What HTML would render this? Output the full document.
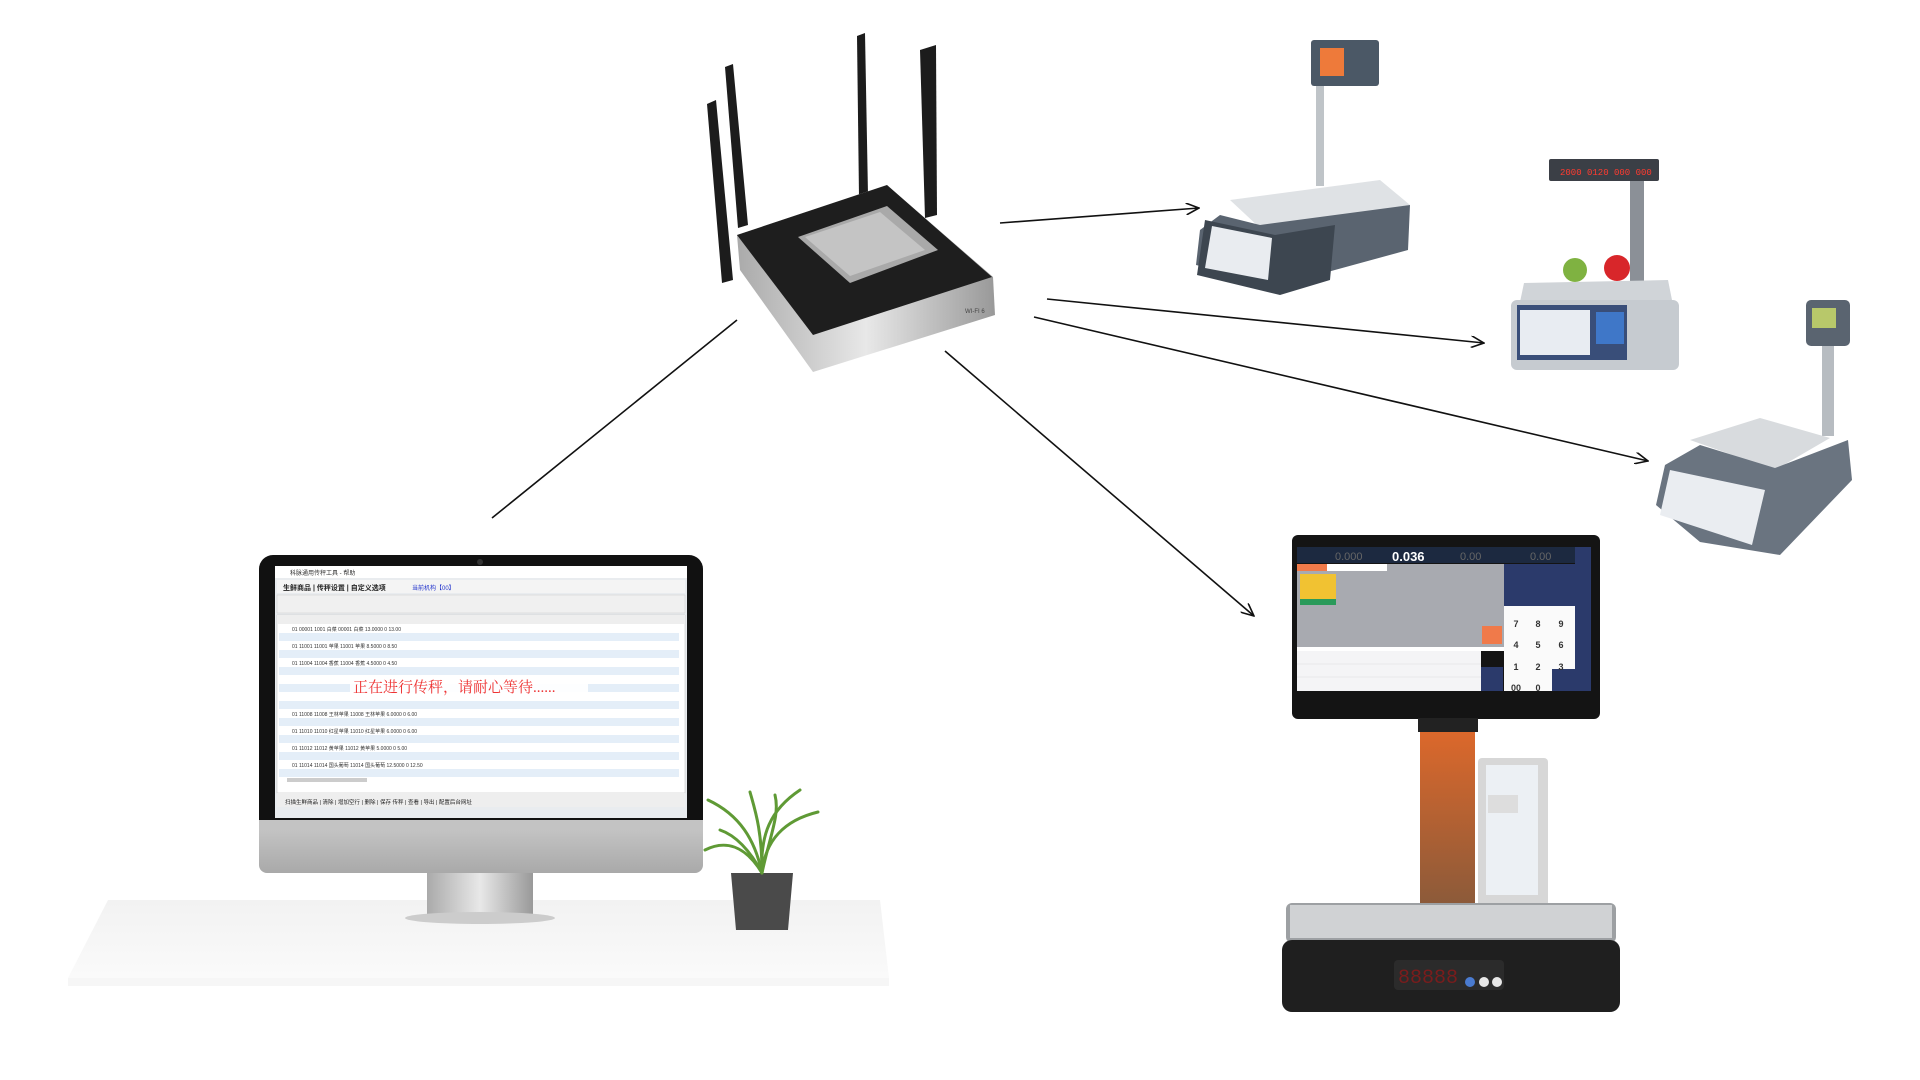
<!DOCTYPE html>
<html><head><meta charset="utf-8"><style>
html,body{margin:0;padding:0;background:#fff;width:1920px;height:1080px;overflow:hidden}
svg{position:absolute;left:0;top:0}
</style></head><body>
<svg width="1920" height="1080" viewBox="0 0 1920 1080" xmlns="http://www.w3.org/2000/svg" font-family="Liberation Sans, Noto Sans CJK SC, sans-serif">
<defs>
<marker id="ah" markerWidth="14" markerHeight="12" refX="13" refY="6" orient="auto" markerUnits="userSpaceOnUse">
<path d="M0,0 L13,6 L0,12" fill="none" stroke="#111" stroke-width="1.6"/></marker>
<linearGradient id="desk" x1="0" y1="0" x2="0" y2="1"><stop offset="0" stop-color="#f2f2f2"/><stop offset="1" stop-color="#fafafa"/></linearGradient>
<linearGradient id="silver" x1="0" y1="0" x2="1" y2="0"><stop offset="0" stop-color="#aaa"/><stop offset=".5" stop-color="#e8e8e8"/><stop offset="1" stop-color="#999"/></linearGradient>
<linearGradient id="chin" x1="0" y1="0" x2="0" y2="1"><stop offset="0" stop-color="#c9c9c9"/><stop offset="1" stop-color="#a9a9a9"/></linearGradient>
<linearGradient id="orange" x1="0" y1="0" x2="0" y2="1"><stop offset="0" stop-color="#e2692a"/><stop offset="1" stop-color="#8a5a3a"/></linearGradient>
</defs>

<!-- desk -->
<polygon points="108,900 880,900 889,978 68,978" fill="url(#desk)"/>
<rect x="68" y="978" width="821" height="8" fill="#f6f6f6"/>

<!-- monitor -->
<rect x="427" y="870" width="106" height="46" fill="url(#silver)"/>
<ellipse cx="480" cy="918" rx="75" ry="6" fill="#ccc"/>
<rect x="259" y="555" width="444" height="318" rx="14" fill="#111"/>
<rect x="259" y="820" width="444" height="53" rx="8" fill="url(#chin)"/>
<rect x="259" y="820" width="444" height="10" fill="#c3c3c3"/>
<circle cx="480" cy="562" r="3" fill="#333"/>
<rect x="275" y="566" width="412" height="252" fill="#e9ecef"/>
<rect x="275" y="566" width="412" height="12" fill="#fff"/>
<text x="290" y="575" font-size="6" fill="#333">科脉通用传秤工具 - 帮助</text>
<rect x="277" y="580" width="408" height="13" fill="#f4f4f4"/>
<text x="283" y="590" font-size="7" font-weight="bold" fill="#222">生鲜商品 | 传秤设置 | 自定义选项</text>
<text x="412" y="590" font-size="6" fill="#23c">当前机构【00】</text>
<rect x="277" y="595" width="408" height="18" fill="#f0f0f0" stroke="#ccc" stroke-width=".5"/>
<rect x="277" y="615" width="408" height="178" fill="#fff" stroke="#bbb" stroke-width=".5"/>
<rect x="277" y="615" width="408" height="9" fill="#eee"/>
<g fill="#e4eef8">
<rect x="279" y="633" width="400" height="8"/><rect x="279" y="650" width="400" height="8"/><rect x="279" y="667" width="400" height="8"/><rect x="279" y="684" width="400" height="8"/><rect x="279" y="701" width="400" height="8"/><rect x="279" y="718" width="400" height="8"/><rect x="279" y="735" width="400" height="8"/><rect x="279" y="752" width="400" height="8"/><rect x="279" y="769" width="400" height="8"/></g>
<g font-size="5" fill="#333">
<text x="292" y="631">01  00001  1001  白菜          00001  白菜          13.0000  0  13.00</text>
<text x="292" y="648">01  11001  11001  苹果         11001  苹果          8.5000  0  8.50</text>
<text x="292" y="665">01  11004  11004  香蕉         11004  香蕉          4.5000  0  4.50</text>
<text x="292" y="716">01  11008  11008  王林苹果     11008  王林苹果      6.0000  0  6.00</text>
<text x="292" y="733">01  11010  11010  红星苹果     11010  红星苹果      6.0000  0  6.00</text>
<text x="292" y="750">01  11012  11012  黄苹果       11012  黄苹果        5.0000  0  5.00</text>
<text x="292" y="767">01  11014  11014  国头葡萄     11014  国头葡萄      12.5000  0  12.50</text>
</g>
<rect x="350" y="675" width="238" height="20" fill="#fff" opacity=".9"/>
<text x="353" y="692" font-size="15" fill="#e33" font-family="Liberation Serif, Noto Serif CJK SC, serif">正在进行传秤，请耐心等待......</text>
<rect x="287" y="778" width="80" height="4" fill="#ccc"/>
<rect x="277" y="793" width="408" height="14" fill="#eee"/>
<text x="285" y="804" font-size="5.5" fill="#222">扫描生鲜商品 | 清除 | 增加空行 | 删除 | 保存          传秤 | 查看 | 导出 | 配置后台网址</text>

<!-- plant -->
<polygon points="731,873 793,873 788,930 736,930" fill="#4a4a4a"/>
<g stroke="#5f9a35" stroke-width="3" fill="none" stroke-linecap="round">
<path d="M762,873 C755,840 740,815 708,800"/><path d="M762,873 C760,835 770,810 800,790"/><path d="M762,873 C765,840 785,820 818,812"/><path d="M762,873 C750,850 735,835 720,830"/><path d="M762,873 C762,830 755,810 750,792"/><path d="M762,873 C770,835 780,815 775,795"/><path d="M762,873 C745,845 725,840 705,850"/></g>

<!-- connecting lines -->
<g stroke="#111" stroke-width="1.6" fill="none">
<line x1="737" y1="320" x2="492" y2="518"/>
<line x1="1000" y1="223" x2="1199" y2="208" marker-end="url(#ah)"/>
<line x1="1047" y1="299" x2="1484" y2="343" marker-end="url(#ah)"/>
<line x1="1034" y1="317" x2="1648" y2="461" marker-end="url(#ah)"/>
<line x1="945" y1="351" x2="1254" y2="616" marker-end="url(#ah)"/>
</g>

<!-- router -->
<g fill="#1c1c1c">
<polygon points="707,104 716,100 733,280 722,283"/>
<polygon points="725,67 733,64 748,225 738,228"/>
<polygon points="857,36 865,33 868,195 859,197"/>
<polygon points="920,50 936,45 937,215 925,218"/>
</g>
<polygon points="737,235 887,185 993,277 995,315 813,372 740,270" fill="url(#silver)"/>
<polygon points="737,235 887,185 992,277 813,335" fill="#1e1e1e"/>
<polygon points="798,237 887,206 938,250 850,283" fill="#a9a9a9"/>
<polygon points="805,237 880,212 925,250 850,276" fill="#c4c4c4"/>
<text x="965" y="313" font-size="6" fill="#444">WI-FI 6</text>

<!-- scale 1 -->
<rect x="1311" y="40" width="68" height="46" rx="3" fill="#4b5866"/>
<rect x="1320" y="48" width="24" height="28" fill="#ee7a3a"/>
<rect x="1316" y="86" width="8" height="100" fill="#bfc4c8"/>
<polygon points="1230,200 1380,180 1410,205 1260,228" fill="#dfe2e5"/>
<polygon points="1220,215 1260,225 1410,205 1408,250 1280,285 1196,265 1200,230" fill="#5a6470"/>
<polygon points="1205,220 1275,235 1335,225 1330,280 1280,295 1197,275" fill="#3d4650"/>
<polygon points="1212,226 1272,238 1268,280 1205,268" fill="#e9ecf0"/>

<!-- scale 2 -->
<rect x="1549" y="159" width="110" height="22" rx="2" fill="#3b3f46"/>
<text x="1560" y="175" font-size="9" fill="#ff3b30" font-family="Liberation Mono, monospace">2000 0120 000 000</text>
<rect x="1630" y="181" width="14" height="100" fill="#8b9097"/>
<circle cx="1575" cy="270" r="12" fill="#7fb241"/><circle cx="1617" cy="268" r="13" fill="#d8262a"/>
<polygon points="1524,283 1668,280 1672,300 1520,302" fill="#d0d4d8"/>
<rect x="1511" y="300" width="168" height="70" rx="6" fill="#c6cbd0"/>
<rect x="1517" y="305" width="110" height="55" fill="#394e79"/>
<rect x="1520" y="310" width="70" height="45" fill="#e8ecf2"/>
<rect x="1596" y="312" width="28" height="32" fill="#3f77c8"/>

<!-- scale 3 -->
<rect x="1806" y="300" width="44" height="46" rx="5" fill="#5a6470"/>
<rect x="1812" y="308" width="24" height="20" fill="#b8c86a"/>
<rect x="1822" y="346" width="12" height="90" fill="#b7bcc1"/>
<polygon points="1690,440 1760,418 1830,438 1775,470" fill="#d8dbde"/>
<polygon points="1665,465 1700,445 1775,468 1848,440 1852,480 1780,555 1700,542 1656,505" fill="#6a7480"/>
<polygon points="1670,470 1765,490 1752,545 1660,515" fill="#eaedf1"/>

<!-- touch scale -->
<rect x="1420" y="718" width="55" height="190" fill="url(#orange)"/>
<rect x="1478" y="758" width="70" height="150" rx="4" fill="#d7d7d7"/>
<rect x="1486" y="765" width="52" height="130" fill="#ecf0f4"/>
<rect x="1488" y="795" width="30" height="18" fill="#ddd"/>
<rect x="1286" y="903" width="330" height="40" rx="6" fill="#9da0a3"/>
<rect x="1290" y="905" width="322" height="33" fill="#d0d2d4"/>
<rect x="1282" y="940" width="338" height="72" rx="10" fill="#1f1f1f"/>
<rect x="1394" y="960" width="110" height="30" rx="4" fill="#2b2b2b"/>
<text x="1398" y="983" font-size="20" fill="#7a1c1c" font-family="Liberation Mono, monospace">88888</text>
<circle cx="1470" cy="982" r="5" fill="#4a7bd0"/><circle cx="1484" cy="982" r="5" fill="#e8e8e8"/><circle cx="1497" cy="982" r="5" fill="#e8e8e8"/>
<rect x="1292" y="535" width="308" height="184" rx="6" fill="#141414"/>
<rect x="1418" y="718" width="60" height="14" fill="#222"/>
<rect x="1297" y="547" width="294" height="16" fill="#1c2940"/>
<text x="1335" y="560" font-size="11" fill="#666">0.000</text>
<text x="1392" y="561" font-size="13" font-weight="bold" fill="#fff">0.036</text>
<text x="1460" y="560" font-size="11" fill="#666">0.00</text>
<text x="1530" y="560" font-size="11" fill="#666">0.00</text>
<rect x="1297" y="564" width="207" height="83" fill="#a8aab0"/>
<rect x="1297" y="564" width="30" height="7" fill="#f07a4a"/><rect x="1327" y="564" width="60" height="7" fill="#fff"/>
<rect x="1300" y="574" width="36" height="30" fill="#f1c232"/><rect x="1300" y="599" width="36" height="6" fill="#2a9a5a"/>
<rect x="1482" y="626" width="20" height="18" fill="#f07a4a"/>
<rect x="1297" y="647" width="207" height="4" fill="#fff"/>
<rect x="1297" y="651" width="184" height="40" fill="#f4f4f6"/>
<g stroke="#ddd" stroke-width=".6"><line x1="1297" y1="664" x2="1481" y2="664"/><line x1="1297" y1="677" x2="1481" y2="677"/></g>
<rect x="1481" y="667" width="22" height="24" fill="#2b3a6b"/>
<rect x="1504" y="564" width="71" height="42" fill="#2b3a6b"/>
<rect x="1504" y="606" width="71" height="85" fill="#fafafa"/>
<rect x="1552" y="669" width="23" height="22" fill="#2b3a6b"/>
<g font-size="9" font-weight="bold" fill="#333" text-anchor="middle">
<text x="1516" y="627">7</text><text x="1538" y="627">8</text><text x="1561" y="627">9</text>
<text x="1516" y="648">4</text><text x="1538" y="648">5</text><text x="1561" y="648">6</text>
<text x="1516" y="670">1</text><text x="1538" y="670">2</text><text x="1561" y="670">3</text>
<text x="1516" y="691">00</text><text x="1538" y="691">0</text></g>
<rect x="1575" y="547" width="16" height="144" fill="#2b3a6b"/>
</svg>
</body></html>
